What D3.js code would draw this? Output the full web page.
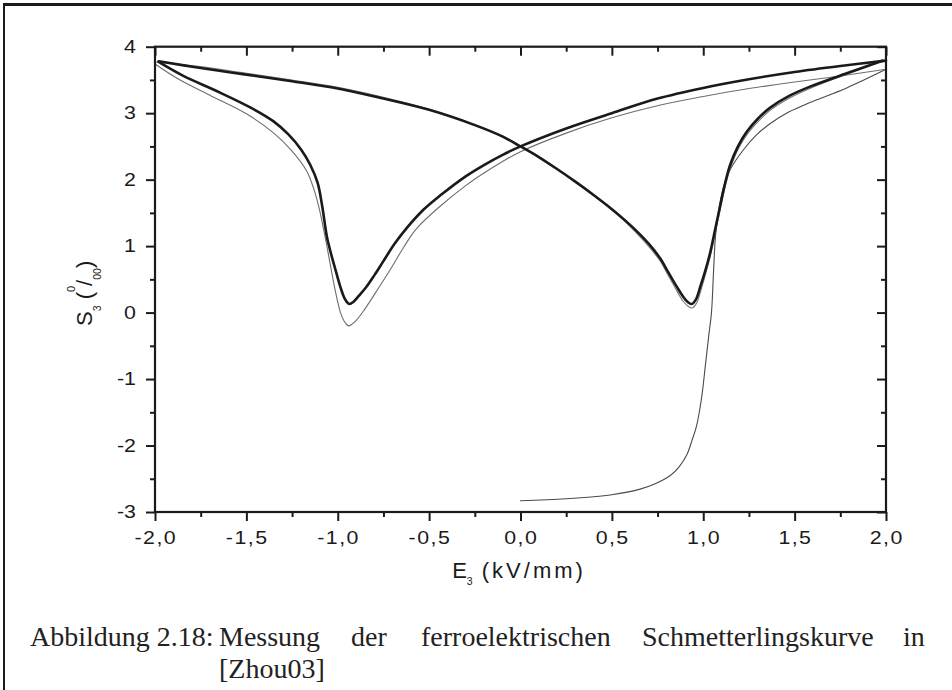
<!DOCTYPE html>
<html>
<head>
<meta charset="utf-8">
<script src="https://cdn.jsdelivr.net/npm/d3@7"></script>
<style>
  html, body { margin: 0; padding: 0; background: #fff; }
  svg { display: block; }
</style>
</head>
<body>
<svg id="chart" width="952" height="690"></svg>
<script>
// Butterfly curve S3(E3): strain in per mille over field in kV/mm.
// Each branch is a list of [E, S] points.

// settled cycles, field decreasing from +2 to -2 kV/mm
const branchDown = [
  [2.0, 3.79], [1.75, 3.71], [1.5, 3.62], [1.25, 3.51], [1.0, 3.38], [0.75, 3.22],
  [0.5, 3.0], [0.25, 2.77], [0.0, 2.5], [-0.1, 2.37], [-0.2, 2.22], [-0.3, 2.05],
  [-0.44, 1.76], [-0.53, 1.55], [-0.623, 1.27], [-0.69, 1.03], [-0.751, 0.77],
  [-0.8, 0.56], [-0.845, 0.38], [-0.885, 0.25], [-0.915, 0.16], [-0.937, 0.13],
  [-0.96, 0.2], [-0.985, 0.38], [-1.01, 0.62], [-1.042, 0.94], [-1.06, 1.15],
  [-1.085, 1.6], [-1.11, 1.95], [-1.15, 2.22], [-1.2, 2.45], [-1.27, 2.68],
  [-1.353, 2.88], [-1.474, 3.08], [-1.66, 3.33], [-1.845, 3.56], [-1.98, 3.77]
];

// settled cycles, field increasing from -2 to +2 kV/mm
const branchUp = [
  [-1.98, 3.78], [-1.75, 3.68], [-1.5, 3.58], [-1.25, 3.48], [-1.0, 3.37], [-0.75, 3.22],
  [-0.5, 3.05], [-0.25, 2.82], [-0.1, 2.65], [0.0, 2.5], [0.1, 2.34], [0.2, 2.16],
  [0.3, 1.97], [0.4, 1.77], [0.48, 1.6], [0.563, 1.41], [0.63, 1.24], [0.7, 1.04],
  [0.763, 0.82], [0.81, 0.6], [0.855, 0.39], [0.89, 0.24], [0.915, 0.16], [0.937, 0.13],
  [0.96, 0.2], [0.985, 0.4], [1.01, 0.62], [1.037, 0.89], [1.065, 1.25], [1.092, 1.6],
  [1.12, 1.95], [1.147, 2.22], [1.19, 2.5], [1.238, 2.72], [1.3, 2.92], [1.365, 3.08],
  [1.47, 3.26], [1.584, 3.4], [1.785, 3.6], [1.98, 3.79]
];

// first cycle, field decreasing
const firstDown = [
  [2.0, 3.66], [1.75, 3.56], [1.5, 3.47], [1.25, 3.37], [1.0, 3.25], [0.76, 3.12],
  [0.5, 2.93], [0.25, 2.7], [0.0, 2.42], [-0.1, 2.27], [-0.2, 2.1], [-0.3, 1.91],
  [-0.44, 1.6], [-0.57, 1.26], [-0.64, 0.98], [-0.714, 0.64], [-0.8, 0.27], [-0.86, 0.02],
  [-0.9, -0.12], [-0.925, -0.18], [-0.94, -0.2], [-0.96, -0.15], [-0.985, 0.0],
  [-1.015, 0.35], [-1.042, 0.74], [-1.07, 1.15], [-1.1, 1.55], [-1.13, 1.85],
  [-1.17, 2.13], [-1.25, 2.43], [-1.35, 2.7], [-1.5, 2.99], [-1.7, 3.27], [-1.87, 3.51],
  [-2.0, 3.74]
];

// first cycle, field increasing
const firstUp = [
  [-2.0, 3.77], [-1.75, 3.7], [-1.5, 3.6], [-1.25, 3.5], [-1.0, 3.39], [-0.75, 3.24],
  [-0.5, 3.06], [-0.25, 2.83], [-0.1, 2.66], [0.0, 2.51], [0.1, 2.35], [0.2, 2.16],
  [0.3, 1.96], [0.4, 1.76], [0.48, 1.59], [0.563, 1.39], [0.63, 1.21], [0.7, 1.0],
  [0.763, 0.78], [0.81, 0.55], [0.855, 0.33], [0.89, 0.17], [0.915, 0.1], [0.94, 0.07],
  [0.965, 0.15], [0.99, 0.36], [1.015, 0.6], [1.042, 0.89], [1.07, 1.25], [1.097, 1.6],
  [1.125, 1.95], [1.152, 2.2], [1.195, 2.48], [1.245, 2.7], [1.31, 2.9], [1.375, 3.06],
  [1.48, 3.24], [1.59, 3.38], [1.79, 3.59], [1.98, 3.78]
];

// virgin curve of the unpoled sample
const virginCurve = [
  [0.0, -2.83], [0.25, -2.8], [0.5, -2.74], [0.65, -2.66], [0.74, -2.57], [0.82, -2.45],
  [0.868, -2.32], [0.91, -2.14], [0.94, -1.91], [0.962, -1.72], [0.99, -1.3],
  [1.013, -0.76], [1.03, -0.35], [1.045, 0.0], [1.056, 0.6], [1.067, 1.15], [1.085, 1.55],
  [1.11, 1.88], [1.147, 2.15], [1.22, 2.45], [1.29, 2.67], [1.365, 2.84], [1.47, 3.02],
  [1.584, 3.16], [1.785, 3.38], [2.0, 3.66]
];

const xTicks = [-2, -1.5, -1, -0.5, 0, 0.5, 1, 1.5, 2];
const xMinorTicks = [-1.75, -1.25, -0.75, -0.25, 0.25, 0.75, 1.25, 1.75];
const yTicks = [-3, -2, -1, 0, 1, 2, 3, 4];
const yMinorTicks = [-2.5, -1.5, -0.5, 0.5, 1.5, 2.5, 3.5];

const captionLine1 = ["Abbildung 2.18:", "Messung", "der", "ferroelektrischen", "Schmetterlingskurve", "in"];
const captionLine2 = ["[Zhou03]"];

// ---- layout ----
const svg = d3.select("#chart");
const plot = { left: 155, right: 886, top: 46.7, bottom: 512 };
const ink = "#1a1a1a";

const x = d3.scaleLinear().domain([-2, 2]).range([plot.left, plot.right]);
const y = d3.scaleLinear().domain([-3, 4]).range([plot.bottom, plot.top]);

// page frame
svg.append("line").attr("x1", 3).attr("x2", 952).attr("y1", 4.5).attr("y2", 4.5)
  .attr("stroke", ink).attr("stroke-width", 3);
svg.append("line").attr("x1", 4).attr("x2", 4).attr("y1", 3).attr("y2", 690)
  .attr("stroke", ink).attr("stroke-width", 2);

// curves
const line = d3.line().x(d => x(d[0])).y(d => y(d[1])).curve(d3.curveCatmullRom.alpha(0.5));
const curves = svg.append("g").attr("fill", "none").attr("stroke-linejoin", "round").attr("stroke-linecap", "round");

curves.append("path").attr("d", line(virginCurve)).attr("stroke", "#4a4a4a").attr("stroke-width", 1.1);
curves.append("path").attr("d", line(firstDown)).attr("stroke", "#6e6e6e").attr("stroke-width", 1.1);
curves.append("path").attr("d", line(firstUp)).attr("stroke", "#7a7a7a").attr("stroke-width", 1.1);
curves.append("path").attr("d", line(branchDown)).attr("stroke", ink).attr("stroke-width", 2.6);
curves.append("path").attr("d", line(branchUp)).attr("stroke", ink).attr("stroke-width", 2.6);

// axes: outward ticks bottom/left, inward mirror ticks top/right
function styleAxis(g) {
  g.select(".domain").remove();
  g.selectAll(".tick line").attr("stroke", ink).attr("stroke-width", 2);
}
const noLabel = () => "";
svg.append("g").attr("transform", `translate(0,${plot.bottom})`)
  .call(d3.axisBottom(x).tickValues(xTicks).tickSize(9).tickFormat(noLabel)).call(styleAxis);
svg.append("g").attr("transform", `translate(0,${plot.bottom})`)
  .call(d3.axisBottom(x).tickValues(xMinorTicks).tickSize(5).tickFormat(noLabel)).call(styleAxis);
svg.append("g").attr("transform", `translate(0,${plot.top})`)
  .call(d3.axisTop(x).tickValues(xTicks).tickSize(-9).tickFormat(noLabel)).call(styleAxis);
svg.append("g").attr("transform", `translate(0,${plot.top})`)
  .call(d3.axisTop(x).tickValues(xMinorTicks).tickSize(-5).tickFormat(noLabel)).call(styleAxis);
svg.append("g").attr("transform", `translate(${plot.left},0)`)
  .call(d3.axisLeft(y).tickValues(yTicks).tickSize(9).tickFormat(noLabel)).call(styleAxis);
svg.append("g").attr("transform", `translate(${plot.left},0)`)
  .call(d3.axisLeft(y).tickValues(yMinorTicks).tickSize(5).tickFormat(noLabel)).call(styleAxis);
svg.append("g").attr("transform", `translate(${plot.right},0)`)
  .call(d3.axisRight(y).tickValues(yTicks).tickSize(-9).tickFormat(noLabel)).call(styleAxis);
svg.append("g").attr("transform", `translate(${plot.right},0)`)
  .call(d3.axisRight(y).tickValues(yMinorTicks).tickSize(-5).tickFormat(noLabel)).call(styleAxis);

svg.append("rect")
  .attr("x", plot.left).attr("y", plot.top)
  .attr("width", plot.right - plot.left).attr("height", plot.bottom - plot.top)
  .attr("fill", "none").attr("stroke", ink).attr("stroke-width", 2.2);

// tick labels (decimal comma)
const fmtX = d => d3.format(".1f")(d).replace(".", ",").replace("\u2212", "-");
const fmtY = d => d3.format("d")(d).replace("\u2212", "-");
const sans = "'Liberation Sans', Arial, sans-serif";

svg.append("g").selectAll("text").data(xTicks).join("text")
  .attr("transform", d => `translate(${x(d) + 0.8},544) scale(1.22,1)`)
  .attr("text-anchor", "middle")
  .attr("font-family", sans).attr("font-size", 17.5).attr("letter-spacing", 1.2)
  .attr("fill", ink)
  .text(fmtX);

svg.append("g").selectAll("text").data(yTicks).join("text")
  .attr("transform", d => `translate(136,${y(d) + 6.3}) scale(1.22,1)`)
  .attr("text-anchor", "end")
  .attr("font-family", sans).attr("font-size", 17.5)
  .attr("fill", ink)
  .text(fmtY);

// axis titles
const xTitle = svg.append("text")
  .attr("x", 519).attr("y", 578)
  .attr("text-anchor", "middle")
  .attr("font-family", sans).attr("font-size", 22).attr("fill", ink);
xTitle.append("tspan").text("E");
xTitle.append("tspan").attr("font-size", 10.5).attr("dy", 7).text("3");
xTitle.append("tspan").attr("dy", -7).attr("letter-spacing", 3).text(" (kV/mm)");

const yTitle = svg.append("text")
  .attr("transform", "translate(92,326) rotate(-90)")
  .attr("text-anchor", "start")
  .attr("font-family", sans).attr("font-size", 22).attr("fill", ink);
yTitle.append("tspan").text("S");
yTitle.append("tspan").attr("font-size", 10.5).attr("dy", 9).text("3");
yTitle.append("tspan").attr("dy", -9).text(" (");
yTitle.append("tspan").attr("font-size", 11).attr("dy", -17).text("0");
yTitle.append("tspan").attr("dy", 17).text("/");
yTitle.append("tspan").attr("font-size", 10.5).attr("dy", 9).text("00");
yTitle.append("tspan").attr("dy", -9).text(")");

// caption, justified first line with hanging indent
const serif = "'Liberation Serif', 'Times New Roman', serif";
const line1X = [30, 219, 351, 421, 642, 903];
svg.append("g").selectAll("text").data(captionLine1).join("text")
  .attr("x", (d, i) => line1X[i]).attr("y", 646)
  .attr("font-family", serif).attr("font-size", 28).attr("fill", "#222")
  .text(d => d);
svg.append("g").selectAll("text").data(captionLine2).join("text")
  .attr("x", 219).attr("y", 678)
  .attr("font-family", serif).attr("font-size", 28).attr("fill", "#222")
  .text(d => d);
</script>
</body>
</html>
